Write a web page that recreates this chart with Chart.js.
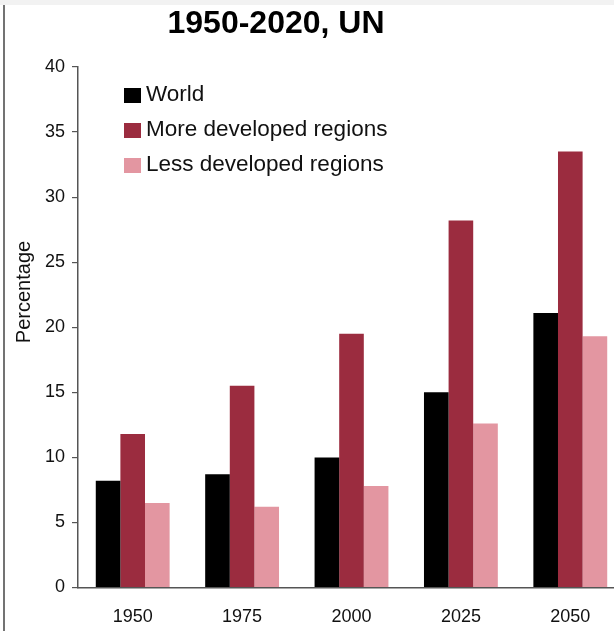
<!DOCTYPE html>
<html>
<head>
<meta charset="utf-8">
<script src="https://cdn.jsdelivr.net/npm/chart.js@4"></script>
<style>
  html, body { margin: 0; padding: 0; overflow: hidden; background: #fff; }
  #wrap { position: absolute; left: 0; top: 0; width: 625px; height: 631px; }
</style>
</head>
<body>
<div id="wrap"><canvas id="chart" width="625" height="631"></canvas></div>
<script>
const years = ['1950', '1975', '2000', '2025', '2050'];
const world = [8.2, 8.7, 10.0, 15.0, 21.1];
const moreDeveloped = [11.8, 15.5, 19.5, 28.2, 33.5];
const lessDeveloped = [6.5, 6.2, 7.8, 12.6, 19.3];
const seriesNames = ['World', 'More developed regions', 'Less developed regions'];
const seriesColors = ['#000000', '#9b2c3f', '#e396a1'];

// title, y label, legend and frame drawn by hand
const decorPlugin = {
    id: 'decor',
    beforeDraw(chart) {
        const { ctx } = chart;
        ctx.save();
        ctx.fillStyle = '#f2f2f2';
        ctx.fillRect(0, 0, chart.width, 5);
        ctx.strokeStyle = '#444';
        ctx.lineWidth = 1.5;
        ctx.beginPath();
        ctx.moveTo(4, 5);
        ctx.lineTo(4, chart.height);
        ctx.stroke();
        ctx.restore();
    },
    afterDraw(chart) {
        const { ctx } = chart;
        ctx.save();
        ctx.fillStyle = '#000';
        ctx.font = 'bold 32px "Liberation Sans", Arial, sans-serif';
        ctx.textAlign = 'center';
        ctx.textBaseline = 'alphabetic';
        ctx.fillText('1950-2020, UN', 276, 33);

        ctx.save();
        ctx.translate(30, 292);
        ctx.rotate(-Math.PI / 2);
        ctx.font = '20px "Liberation Sans", Arial, sans-serif';
        ctx.fillStyle = '#111';
        ctx.fillText('Percentage', 0, 0);
        ctx.restore();

        ctx.textAlign = 'left';
        ctx.font = '22.5px "Liberation Sans", Arial, sans-serif';
        chart.data.datasets.forEach((ds, i) => {
            const y = 88 + i * 35;
            ctx.fillStyle = ds.backgroundColor;
            ctx.fillRect(124, y, 17, 15);
            ctx.fillStyle = '#111';
            ctx.fillText(ds.label, 146, y + 13);
        });
        ctx.restore();
    },
};

new Chart(document.getElementById('chart'), {
    type: 'bar',
    data: {
        labels: years,
        datasets: [
            { label: seriesNames[0], data: world, backgroundColor: seriesColors[0] },
            { label: seriesNames[1], data: moreDeveloped, backgroundColor: seriesColors[1] },
            { label: seriesNames[2], data: lessDeveloped, backgroundColor: seriesColors[2] },
        ],
    },
    options: {
        responsive: false,
        animation: false,
        layout: { padding: { top: 67, left: 0, right: 0, bottom: 0 } },
        datasets: { bar: { barPercentage: 1, categoryPercentage: 0.675 } },
        plugins: {
            legend: { display: false },
            title: { display: false },
            tooltip: { enabled: false },
        },
        scales: {
            x: {
                grid: { display: false },
                border: { display: true, color: '#555', width: 1.5 },
                ticks: {
                    color: '#111',
                    padding: 11,
                    font: { family: '"Liberation Sans", Arial, sans-serif', size: 18 },
                },
                afterFit(scale) { scale.height = 43.5; },
            },
            y: {
                min: 0,
                max: 40,
                grid: {
                    drawOnChartArea: false,
                    drawTicks: true,
                    tickLength: 6,
                    tickColor: '#555',
                    lineWidth: 1.2,
                },
                border: { display: true, color: '#555', width: 1.5 },
                ticks: {
                    stepSize: 5,
                    color: '#111',
                    padding: 7,
                    font: { family: '"Liberation Sans", Arial, sans-serif', size: 18 },
                },
                afterFit(scale) { scale.width = 78; },
            },
        },
    },
    plugins: [decorPlugin],
});
</script>
</body>
</html>
